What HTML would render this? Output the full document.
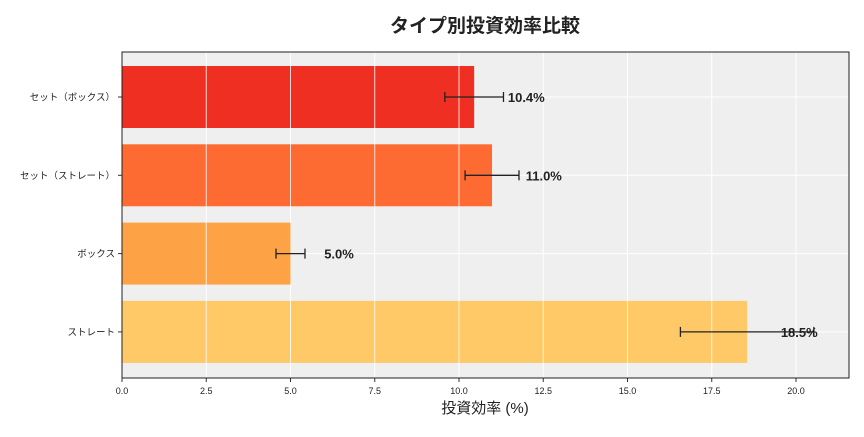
<!DOCTYPE html>
<html><head><meta charset="utf-8"><style>
body{margin:0;background:#fff;font-family:"Liberation Sans","Noto Sans CJK JP",sans-serif;}
</style></head><body>
<svg width="864" height="432" xmlns="http://www.w3.org/2000/svg" id="chart" font-family="Liberation Sans, Noto Sans CJK JP, sans-serif">
<text x="485" y="32" text-anchor="middle" font-size="19" font-weight="bold" fill="#222">タイプ別投資効率比較</text>
<rect x="122" y="52" width="727" height="326" fill="#efefef"/>
<g id="grid"></g><g id="bars"></g><g id="axes"></g>
<text x="485" y="413" text-anchor="middle" font-size="15" fill="#222">投資効率 (%)</text>
</svg>
<script>
const categories=["セット（ボックス）","セット（ストレート）","ボックス","ストレート"];
const values=[10.45,10.98,5.0,18.55];
const errors=[0.87,0.8,0.43,1.98];
const valueLabels=["10.4%","11.0%","5.0%","18.5%"];
const colors=["#ee2f22","#fd6b33","#fda346","#fec966"];
const xTicks=[0,2.5,5,7.5,10,12.5,15,17.5,20];
const NS="http://www.w3.org/2000/svg";
const x0=122,pxPer=33.7;
const X=v=>x0+v*pxPer;
const Y=i=>97+i*78.3;
function mk(t,a,p){const e=document.createElementNS(NS,t);for(const k in a)e.setAttribute(k,a[k]);p.appendChild(e);return e;}
const grid=document.getElementById('grid'),bars=document.getElementById('bars'),axes=document.getElementById('axes');
xTicks.forEach(t=>{
 const l=mk('line',{x1:X(t),x2:X(t),y1:52,y2:378,stroke:'#fff','stroke-width':1},grid);
 
 
 const tk=mk('line',{x1:X(t),x2:X(t),y1:378,y2:382,stroke:'#333'},axes);
 
 
 const tx=mk('text',{x:X(t),y:394,'text-anchor':'middle','font-size':9,fill:'#222'},axes);
 tx.textContent=t.toFixed(1);
 
 
});
categories.forEach((c,i)=>{
 const y=Y(i);
 const gl=mk('line',{x1:122,x2:849,y1:y,y2:y,stroke:'#fff'},grid);
 
 
 const r=mk('rect',{x:X(0),y:y-31,width:X(values[i])-X(0),height:62,fill:colors[i]},bars);
 
 
 ['x'].forEach(()=>{});
 xTicks.forEach(t=>{if(X(t)<X(values[i])){const w=mk('line',{x1:X(t),x2:X(t),y1:y-31,y2:y+31,stroke:'rgba(255,255,255,0.8)'},bars);}});
 const yl=mk('line',{x1:X(values[i]-0.001),x2:X(values[i]),y1:y,y2:y,stroke:'#fff'},bars);
 
 
 const e=mk('g',{stroke:'#222','stroke-width':1.3},bars);
 
 
 const lo=X(values[i]-errors[i]),hi=X(values[i]+errors[i]);
 mk('line',{x1:lo,x2:hi,y1:y,y2:y},e);
 mk('line',{x1:lo,x2:lo,y1:y-5,y2:y+5},e);
 mk('line',{x1:hi,x2:hi,y1:y-5,y2:y+5},e);
 const vl=mk('text',{x:X(values[i]+1.0),y:y+5,'font-size':13,'font-weight':'bold',fill:'#222'},bars);
 vl.textContent=valueLabels[i];
 
 
 const tk=mk('line',{x1:118,x2:122,y1:y,y2:y,stroke:'#333'},axes);
 
 
 const cl=mk('text',{x:115,y:y+3.5,'text-anchor':'end','font-size':9.5,fill:'#222'},axes);
 cl.textContent=c;
 
 
});
const f=mk('rect',{x:122,y:52,width:727,height:326,fill:'none',stroke:'#222','stroke-width':1},axes);


</script>
</body></html>
